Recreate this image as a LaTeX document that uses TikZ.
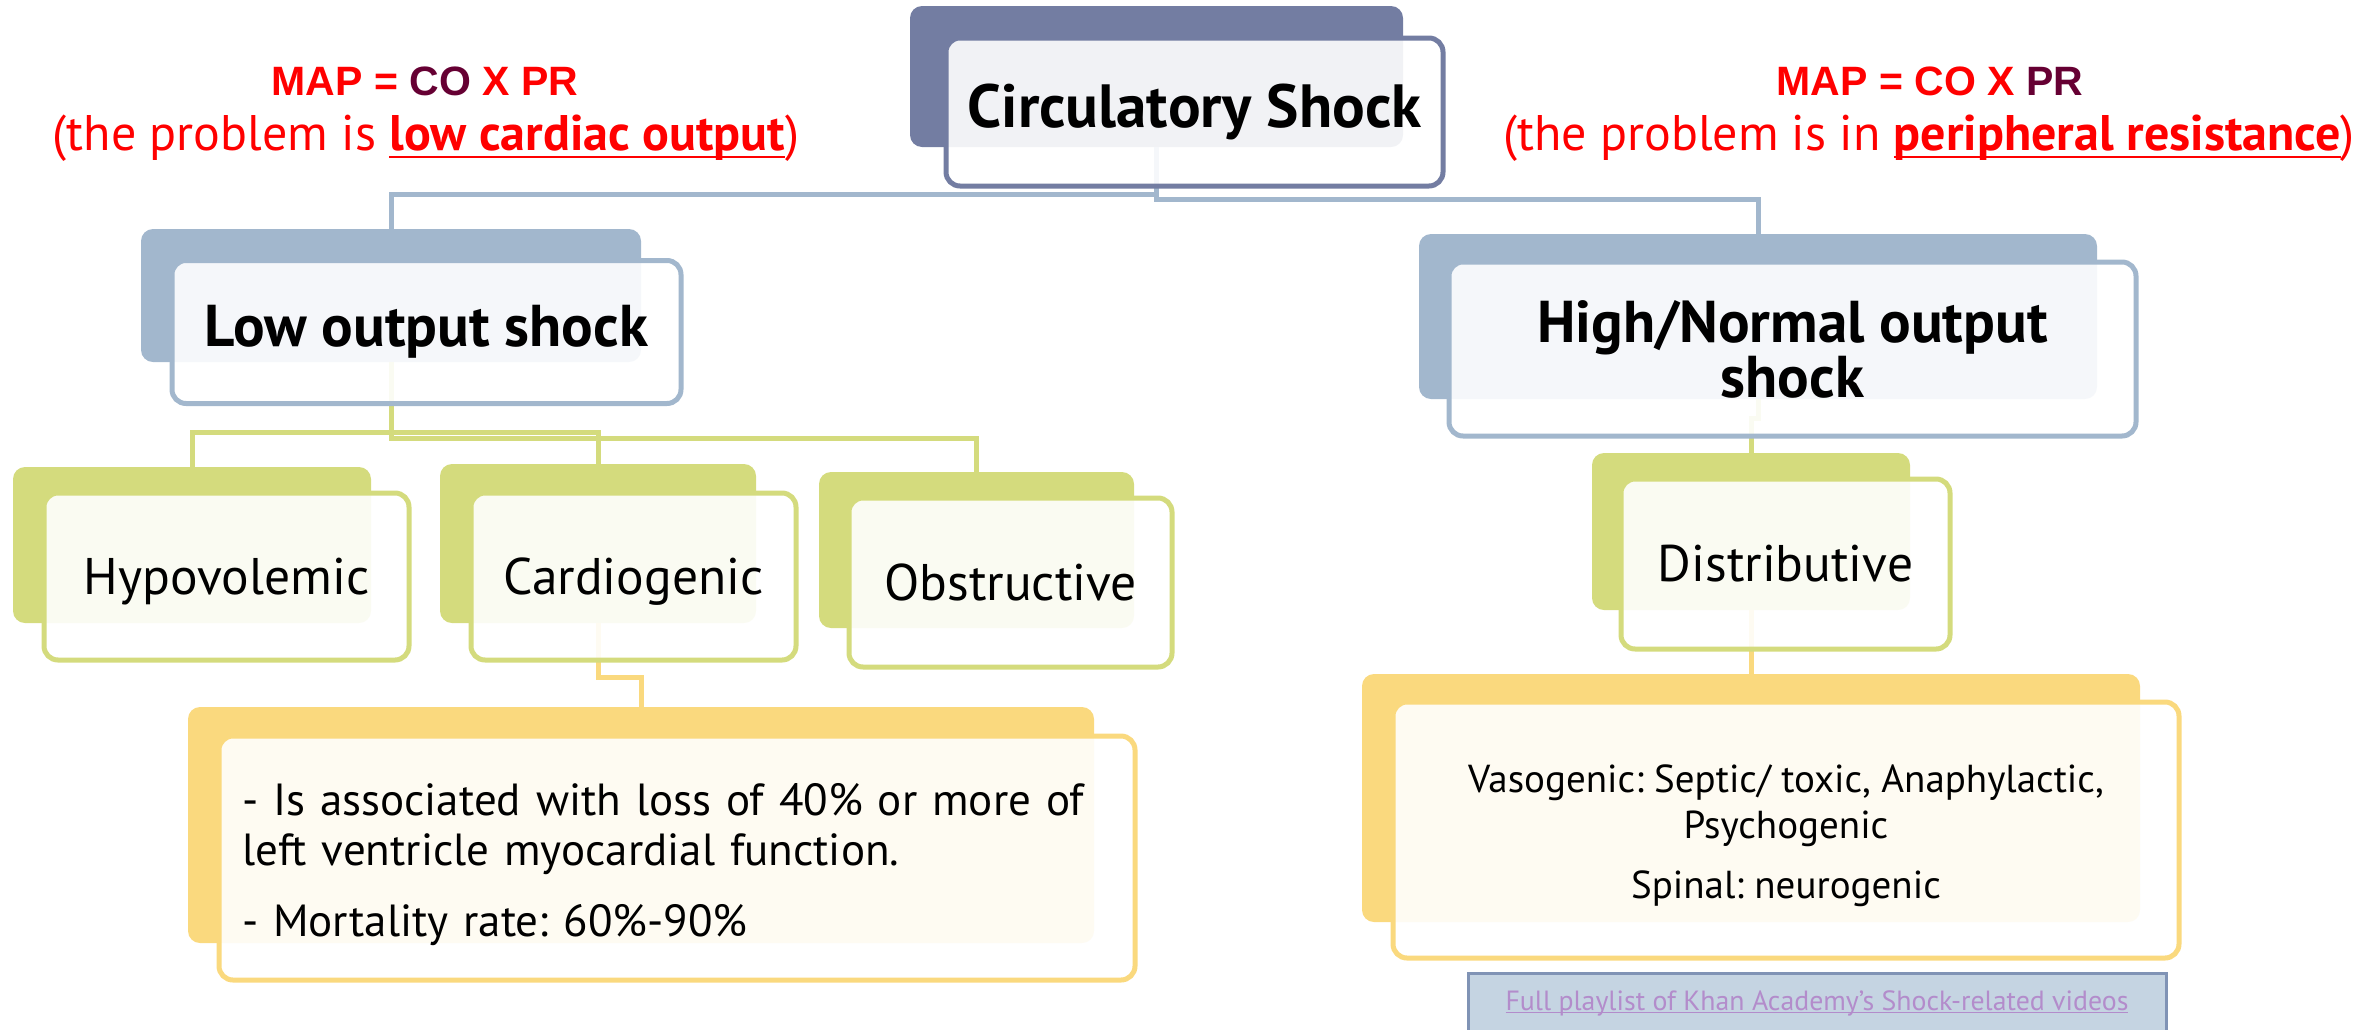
\documentclass[tikz,border=0pt]{standalone}
\usepackage{fontspec}
\setmainfont{PT Sans}
\newfontfamily\arialfont{Liberation Sans}
\frenchspacing
\definecolor{cTop}{HTML}{737DA2}
\definecolor{cBlue}{HTML}{A2B7CD}
\definecolor{cGreen}{HTML}{D4DB7D}
\definecolor{cGold}{HTML}{FAD97E}
\definecolor{cRed}{HTML}{FF0000}
\definecolor{cMaroon}{HTML}{660033}
\definecolor{cLinkFill}{HTML}{C5D4E2}
\definecolor{cLinkDraw}{HTML}{8093B5}
\definecolor{cPurple}{HTML}{B38CCB}
% #1 thickness, #2 depth below baseline, #3 text
\newcommand{\myuline}[3]{\setbox0\hbox{#3}\rlap{\vrule width\wd0 height\dimexpr#1-#2\relax depth #2}\box0}
\begin{document}
\frenchspacing
\begin{tikzpicture}[x=1pt,y=-1pt,
  backbox/.style={rectangle, rounded corners=12pt, inner sep=0pt, draw=none},
  frontbox/.style={rectangle, rounded corners=14pt, line width=5pt, fill=white, fill opacity=0.9, text opacity=1, inner sep=0pt, align=center},
  conn/.style={line width=5pt},
  lvtwo/.style={font=\fontsize{51.5}{56}\selectfont},
  redtxt/.style={text=cRed, inner sep=0pt}
]
\useasboundingbox (0,0) rectangle (2374,1029);
\clip (0,0) rectangle (2374,1029);

% ---------- back boxes ----------
\node[backbox, fill=cTop,   minimum width=493pt, minimum height=141pt] (circB) at (1156.5,76.5) {};
\node[backbox, fill=cBlue,  minimum width=500pt, minimum height=133pt] (loB) at (391,295.5) {};
\node[backbox, fill=cBlue,  minimum width=678pt, minimum height=165pt] (hnB) at (1758,316.5) {};
\node[backbox, fill=cGreen, minimum width=358pt, minimum height=156pt] (hyB) at (192,545) {};
\node[backbox, fill=cGreen, minimum width=316pt, minimum height=159pt] (caB) at (598,543.5) {};
\node[backbox, fill=cGreen, minimum width=315pt, minimum height=156pt] (obB) at (976.5,550) {};
\node[backbox, fill=cGreen, minimum width=318pt, minimum height=157pt] (diB) at (1751,531.5) {};
\node[backbox, fill=cGold,  minimum width=906pt, minimum height=236pt] (blB) at (641,825) {};
\node[backbox, fill=cGold,  minimum width=778pt, minimum height=248pt] (brB) at (1751,798) {};

% ---------- elbow levels ----------
\coordinate (yA) at (0,194);
\coordinate (yB) at (0,199);
\coordinate (yC) at (0,432);
\coordinate (yD) at (0,438);
\coordinate (yE) at (0,677);
\coordinate (yF) at (0,418);

% ---------- connectors ----------
\draw[conn, cBlue] (circB.south) -- (circB.south |- yA) -| (loB.north);
\draw[conn, cBlue] (circB.south |- yA) -- (circB.south |- yB) -| (hnB.north);
\draw[conn, cGreen] (loB.south) -- (loB.south |- yC) -| (hyB.north);
\draw[conn, cGreen] (loB.south |- yC) -| (caB.north);
\draw[conn, cGreen] (loB.south |- yC) -- (loB.south |- yD) -| (obB.north);
\draw[conn, cGreen] (hnB.south) -- (hnB.south |- yF) -| (diB.north);
\draw[conn, cGold] (caB.south) -- (caB.south |- yE) -| (blB.north);
\draw[conn, cGold] (diB.south) -- (brB.north);

% ---------- front boxes ----------
\node[frontbox, draw=cTop, minimum width=497pt, minimum height=148pt,
      font=\fontsize{61}{66}\selectfont\bfseries] (circF) at (1194.5,112) {Circulatory Shock};
\node[frontbox, draw=cBlue, minimum width=509pt, minimum height=143pt,
      font=\fontsize{59}{62}\selectfont\bfseries] (loF) at (426.5,332) {Low output shock};
\node[frontbox, draw=cBlue, minimum width=687pt, minimum height=174pt,
      font=\fontsize{59}{53}\selectfont\bfseries] (hnF) at (1792.5,349) {High/Normal output\\shock};
\node[frontbox, draw=cGreen, minimum width=365pt, minimum height=167pt, lvtwo] (hyF) at (226.5,576.5) {\rule{0pt}{46pt}Hypovolemic};
\node[frontbox, draw=cGreen, minimum width=325pt, minimum height=167pt, lvtwo] (caF) at (633.5,576.5) {\rule{0pt}{46pt}Cardiogenic};
\node[frontbox, draw=cGreen, minimum width=323pt, minimum height=169pt, lvtwo] (obF) at (1010.5,582.5) {Obstructive};
\node[frontbox, draw=cGreen, minimum width=329pt, minimum height=170pt, lvtwo] (diF) at (1785.5,564) {Distributive};
\node[frontbox, draw=cGold, minimum width=916pt, minimum height=244pt, align=left,
      text width=870pt, font=\fontsize{45}{50}\selectfont] (blF) at (677,858)
  {\rule{0pt}{45pt}- Is associated with loss of 40\% or more of\\left ventricle myocardial function.\\[21pt]- Mortality rate: 60\%-90\%};
\node[frontbox, draw=cGold, minimum width=786pt, minimum height=256pt,
      font=\fontsize{39}{46}\selectfont] (brF) at (1786,830)
  {\rule{0pt}{40pt}Vasogenic: Septic/ toxic, Anaphylactic,\\Psychogenic\\[14pt]Spinal: neurogenic};

% ---------- link box ----------
\node[rectangle, fill=cLinkFill, draw=cLinkDraw, line width=3pt, minimum width=698pt, minimum height=80pt, inner sep=0pt] (linkB) at (1817,1013) {};
\node[inner sep=0pt, text=cPurple, font=\fontsize{27.8}{32}\selectfont] (linkT) at (1817,1003)
  {\myuline{1.5pt}{3pt}{Full playlist of Khan Academy’s Shock-related videos}};

% ---------- red annotations ----------
\node[redtxt, font=\arialfont\fontsize{41}{46}\selectfont\bfseries] (mapL) at (425,81)
  {MAP = \textcolor{cMaroon}{CO} X PR};
\node[redtxt, font=\fontsize{50}{56}\selectfont] (probL) at (426,138)
  {(the problem is \textbf{\myuline{2.5pt}{8pt}{low cardiac output}})};
\node[redtxt, font=\arialfont\fontsize{41}{46}\selectfont\bfseries] (mapR) at (1930,81)
  {MAP = CO X \textcolor{cMaroon}{PR}};
\node[redtxt, font=\fontsize{50}{56}\selectfont] (probR) at (1929,138)
  {(the problem is in \textbf{\myuline{2.5pt}{8pt}{peripheral resistance}})};
\end{tikzpicture}
\end{document}
